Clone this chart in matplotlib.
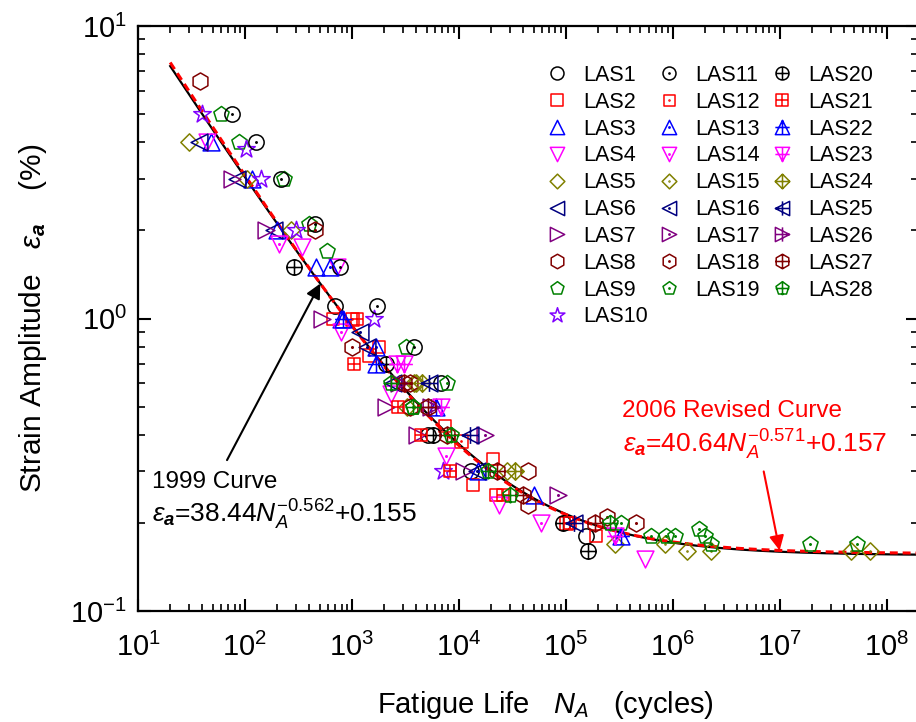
import numpy as np
import matplotlib
matplotlib.use("Agg")
import matplotlib.pyplot as plt
from matplotlib.markers import MarkerStyle
from matplotlib.path import Path
from matplotlib.lines import Line2D

plt.rcParams['font.family'] = ['Liberation Sans', 'DejaVu Sans']
plt.rcParams['mathtext.fontset'] = 'custom'
plt.rcParams['mathtext.rm'] = 'Liberation Sans'
plt.rcParams['mathtext.it'] = 'Liberation Sans:italic'
plt.rcParams['mathtext.bf'] = 'Liberation Sans:bold'
plt.rcParams['mathtext.bfit'] = 'Liberation Sans:bold:italic'

# ---- fitted curves: eps_a = A * N^-B + C ----
A_1999, B_1999, C_1999 = 38.44, 0.562, 0.155
A_2006, B_2006, C_2006 = 40.64, 0.571, 0.157

# ---- test data: fatigue life (cycles) and strain amplitude (%) ----
las1_n = [690, 5100, 6800, 13000, 156000]
las1_e = [1.1, 0.4, 0.6, 0.3, 0.18]
las2_n = [660, 1800, 7400, 13500, 20700, 22400, 192000]
las2_e = [1.0, 0.8, 0.43, 0.27, 0.33, 0.25, 0.18]
las3_n = [48, 117, 200, 460, 790, 51000]
las3_e = [4.0, 3.0, 2.0, 1.5, 1.0, 0.25]
las4_n = [44, 340, 730, 2300, 23600, 554000]
las4_e = [4.0, 1.75, 1.5, 0.55, 0.23, 0.15]
las5_n = [30, 105, 270, 3300, 4000]
las5_e = [4.0, 3.0, 2.0, 0.5, 0.6]
las6_n = [37, 84, 188, 2400]
las6_e = [4.0, 3.0, 2.0, 0.6]
las7_n = [76, 157, 530, 2100, 4100, 11100]
las7_e = [3.0, 2.0, 1.0, 0.5, 0.4, 0.3]
las8_n = [38, 3500, 44000, 44000]
las8_e = [6.5, 0.5, 0.3, 0.23]
las9_n = [60, 88, 233, 400, 590, 3200]
las9_e = [5.0, 4.0, 3.0, 2.1, 1.7, 0.8]
las10_n = [40, 102, 141, 300, 1620, 7100]
las10_e = [5.0, 3.8, 3.0, 2.0, 1.0, 0.3]
las11_n = [75, 127, 217, 452, 775, 1720, 3840]
las11_e = [5.0, 4.0, 3.0, 2.1, 1.5, 1.1, 0.8]
las12_n = [1000, 1450, 10400, 100000]
las12_e = [1.0, 0.75, 0.38, 0.2]
las13_n = [630, 1680, 15000]
las13_e = [1.5, 0.8, 0.3]
las14_n = [209, 790, 7600, 58900]
las14_e = [1.8, 0.9, 0.34, 0.2]
las15_n = [3840, 28000, 286000, 841000, 1350000, 2290000, 47000000, 70000000]
las15_e = [0.6, 0.3, 0.17, 0.17, 0.16, 0.16, 0.16, 0.16]
las16_n = [1180, 1390, 14900]
las16_e = [0.9, 0.8, 0.3]
las17_n = [17400, 85000]
las17_e = [0.4, 0.25]
las18_n = [450, 1000, 3500, 245000, 458000]
las18_e = [2.0, 0.8, 0.6, 0.21, 0.2]
las19_n = [3700, 7800, 330000, 630000, 870000, 1050000, 1780000, 2000000,
           2290000, 19200000, 52500000]
las19_e = [0.5, 0.6, 0.2, 0.18, 0.18, 0.18, 0.19, 0.18, 0.17, 0.17, 0.17]
las20_n = [290, 2090, 5700, 93700, 163000]
las20_e = [1.5, 0.7, 0.4, 0.2, 0.16]
las21_n = [1120, 1050, 2680, 4470, 8200, 26000, 110000]
las21_e = [1.0, 0.7, 0.5, 0.4, 0.3, 0.25, 0.2]
las22_n = [820, 1680, 6100, 332000]
las22_e = [1.0, 0.7, 0.5, 0.18]
las23_n = [2660, 3100, 6800, 286000]
las23_e = [0.7, 0.7, 0.5, 0.18]
las24_n = [4500, 33200]
las24_e = [0.6, 0.3]
las25_n = [5300, 12600, 120000]
las25_e = [0.6, 0.4, 0.2]
las26_n = [2780, 5500]
las26_e = [0.6, 0.5]
las27_n = [3100, 5140, 7800, 22600, 39800, 187000]
las27_e = [0.6, 0.5, 0.4, 0.3, 0.25, 0.2]
las28_n = [2320, 3690, 8500, 18600, 29800, 260000]
las28_e = [0.6, 0.5, 0.4, 0.3, 0.25, 0.2]

series = [
    ('LAS1', las1_n, las1_e), ('LAS2', las2_n, las2_e), ('LAS3', las3_n, las3_e),
    ('LAS4', las4_n, las4_e), ('LAS5', las5_n, las5_e), ('LAS6', las6_n, las6_e),
    ('LAS7', las7_n, las7_e), ('LAS8', las8_n, las8_e), ('LAS9', las9_n, las9_e),
    ('LAS10', las10_n, las10_e), ('LAS11', las11_n, las11_e), ('LAS12', las12_n, las12_e),
    ('LAS13', las13_n, las13_e), ('LAS14', las14_n, las14_e), ('LAS15', las15_n, las15_e),
    ('LAS16', las16_n, las16_e), ('LAS17', las17_n, las17_e), ('LAS18', las18_n, las18_e),
    ('LAS19', las19_n, las19_e), ('LAS20', las20_n, las20_e), ('LAS21', las21_n, las21_e),
    ('LAS22', las22_n, las22_e), ('LAS23', las23_n, las23_e), ('LAS24', las24_n, las24_e),
    ('LAS25', las25_n, las25_e), ('LAS26', las26_n, las26_e), ('LAS27', las27_n, las27_e),
    ('LAS28', las28_n, las28_e),
]

SHAPES = ['o', 's', '^', 'v', 'D', '<', '>', 'h', 'p', '*']
COLORS = ['#000000', '#FF0000', '#0000FF', '#FF00FF', '#808000',
          '#000080', '#800080', '#800000', '#008000', '#8000FF']
SIZE_FACTOR = {'o': 1.0, 's': 0.85, '^': 1.1, 'v': 1.1, 'D': 0.8,
               '<': 1.1, '>': 1.1, 'h': 1.12, 'p': 1.05, '*': 1.2}
BASE_MS = 11.0


def make_marker(code, extra):
    """Open symbol, optionally with a centre dot or an inner cross."""
    base = MarkerStyle(code)
    path = base.get_path().transformed(base.get_transform())
    r = np.abs(path.vertices).max()
    parts = [path]
    if extra == 'dot':
        parts.append(Path.circle((0, 0), 0.045))
    elif extra == 'plus':
        parts.append(Path([(-r, 0), (r, 0), (0, -r), (0, r)],
                          [Path.MOVETO, Path.LINETO, Path.MOVETO, Path.LINETO]))
    return Path.make_compound_path(*parts), 2 * r * SIZE_FACTOR[code]


def style_for(i):
    if i < 10:
        k, extra = i, None
    elif i < 19:
        k, extra = i - 10, 'dot'
    else:
        k, extra = i - 19, 'plus'
    marker, scale = make_marker(SHAPES[k], extra)
    return marker, scale, COLORS[k]


# ---- figure layout (pixel based) ----
W, H = 916, 722
fig = plt.figure(figsize=(W / 100, H / 100), dpi=100)
ax_l, ax_r, ax_t, ax_b = 138, 918, 26, 611
ax = fig.add_axes([ax_l / W, 1 - ax_b / H, (ax_r - ax_l) / W, (ax_b - ax_t) / H])

ax.set_xscale('log')
ax.set_yscale('log')
x_max = 10 ** (1 + (ax_r - 139) / 106.8)
ax.set_xlim(10, x_max)
ax.set_ylim(0.1, 10)

# fitted curves
n_fit = np.logspace(np.log10(20), np.log10(x_max), 500)
e_1999 = A_1999 * n_fit ** (-B_1999) + C_1999
e_2006 = A_2006 * n_fit ** (-B_2006) + C_2006
ax.plot(n_fit, e_1999, color='black', lw=1.6, zorder=2)
ax.plot(n_fit, e_2006, color='red', lw=2.2, dashes=(2.6, 1.6), zorder=2)

handles = []
labels = []
for i, (name, n, e) in enumerate(series):
    marker, scale, color = style_for(i)
    ax.plot(n, e, linestyle='none', marker=marker, ms=BASE_MS * scale,
            mec=color, mfc='none', mew=1.1, zorder=3)
    handles.append(Line2D([], [], linestyle='none', marker=marker,
                          ms=BASE_MS * scale * 0.85, mec=color, mfc='none', mew=1.1))
    labels.append(name)

ax.legend(handles, labels, ncol=3, loc='upper left',
          bbox_to_anchor=(546 / W, 1 - 65 / H), bbox_transform=fig.transFigure,
          frameon=False, fontsize=15.5, handlelength=1.0, handletextpad=0.72,
          columnspacing=0.5, labelspacing=0.27, borderpad=0, borderaxespad=0,
          numpoints=1)

# axes styling
for sp in ax.spines.values():
    sp.set_linewidth(1.6)
ax.tick_params(which='both', direction='in', top=True, right=True, labelsize=21)
ax.tick_params(which='major', length=9, width=1.5)
ax.tick_params(which='minor', length=5, width=1.2)
ax.tick_params(axis='x', which='major', pad=16)
ax.tick_params(axis='y', which='major', pad=8)
ax.xaxis.set_major_locator(matplotlib.ticker.LogLocator(base=10, numticks=20))
ax.xaxis.set_minor_locator(matplotlib.ticker.LogLocator(base=10, subs=np.arange(2, 10), numticks=20))
ax.xaxis.set_minor_formatter(matplotlib.ticker.NullFormatter())

fig.text(545 / W, 1 - 713 / H, r'Fatigue Life   $N_A$   (cycles)', fontsize=21,
         ha='center', va='baseline')
fig.text(33 / W, 1 - 318 / H, r'Strain Amplitude   $\varepsilon_{\mathbfit{a}}$    (%)',
         fontsize=21.5, rotation=90, ha='center', va='center')

# curve labels
eq_1999 = (r'$\varepsilon_{\mathbfit{a}}$=' + f'{A_1999:.2f}' +
           r'$N_A^{-' + f'{B_1999:.3f}' + r'}$+' + f'{C_1999:.3f}')
eq_2006 = (r'$\varepsilon_{\mathbfit{a}}$=' + f'{A_2006:.2f}' +
           r'$N_A^{-' + f'{B_2006:.3f}' + r'}$+' + f'{C_2006:.3f}')
fig.text(152 / W, 1 - 488 / H, '1999 Curve', fontsize=17.5, va='baseline')
fig.text(152 / W, 1 - 523 / H, eq_1999, fontsize=19, va='baseline')
fig.text(622 / W, 1 - 417 / H, '2006 Revised Curve', fontsize=17.5, va='baseline',
         color='red')
fig.text(623 / W, 1 - 453 / H, eq_2006, fontsize=19, va='baseline', color='red')

n_tip_1999 = 506
ax.annotate('', xy=(n_tip_1999, A_1999 * n_tip_1999 ** (-B_1999) + C_1999),
            xytext=(68, 0.328),
            arrowprops=dict(arrowstyle='-|>', color='black', lw=1.5,
                            mutation_scale=22, shrinkA=0, shrinkB=0), zorder=4)
n_tip_2006 = 1.0e7
ax.annotate('', xy=(n_tip_2006, A_2006 * n_tip_2006 ** (-B_2006) + C_2006),
            xytext=(7.1e6, 0.30),
            arrowprops=dict(arrowstyle='-|>', color='red', lw=1.5,
                            mutation_scale=22, shrinkA=0, shrinkB=0), zorder=4)

fig.savefig('out.png', dpi=100)
